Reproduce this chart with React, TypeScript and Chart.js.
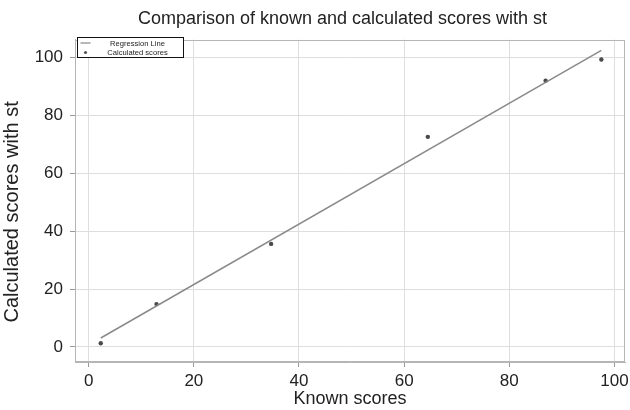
import React, { useEffect, useRef } from 'react';
import { Chart, registerables } from 'chart.js';

Chart.register(...registerables);

// ---- data ----
const knownScores = [2.3, 12.9, 34.7, 64.5, 86.9, 97.5];
const calculatedScores = [1.3, 14.8, 35.6, 72.6, 92.0, 99.3];
const regressionX = [2.3, 97.5];
const regressionY = [3.1, 102.5];
const xTicks = [0, 20, 40, 60, 80, 100];
const yTicks = [0, 20, 40, 60, 80, 100];
const chartTitle = 'Comparison of known and calculated scores with st';
const xTitle = 'Known scores';
const yTitle = 'Calculated scores with st';
const lineLabel = 'Regression Line';
const pointLabel = 'Calculated scores';

const FONT = '"Liberation Sans", Arial, sans-serif';
const TEXT = '#222';

const framePlugin = {
  id: 'frame',
  beforeDatasetsDraw(chart: any) {
    const { ctx, chartArea } = chart;
    ctx.save();
    ctx.strokeStyle = '#b5b5b5';
    ctx.lineWidth = 1;
    ctx.strokeRect(
      Math.round(chartArea.left) + 0.5,
      Math.round(chartArea.top) + 0.5,
      Math.round(chartArea.right - chartArea.left) - 1,
      Math.round(chartArea.bottom - chartArea.top) - 1
    );
    ctx.restore();
  },
};

const legendPlugin = {
  id: 'boxLegend',
  afterDraw(chart: any) {
    const { ctx, chartArea } = chart;
    const x = Math.round(chartArea.left) + 2.5;
    const y = Math.round(chartArea.top) - 2.5;
    const w = 106;
    const h = 20;
    ctx.save();
    ctx.fillStyle = '#fff';
    ctx.fillRect(x, y, w, h);
    ctx.strokeStyle = '#111';
    ctx.lineWidth = 1;
    ctx.strokeRect(x, y, w, h);
    // line sample
    ctx.strokeStyle = '#888';
    ctx.lineWidth = 1.2;
    ctx.beginPath();
    ctx.moveTo(x + 3, y + 5.5);
    ctx.lineTo(x + 13, y + 5.5);
    ctx.stroke();
    // point sample
    ctx.fillStyle = '#555';
    ctx.beginPath();
    ctx.arc(x + 8, y + 15, 1.6, 0, Math.PI * 2);
    ctx.fill();
    ctx.fillStyle = TEXT;
    ctx.font = '7.6px ' + FONT;
    ctx.textAlign = 'center';
    ctx.textBaseline = 'middle';
    const labels = chart.data.datasets.map((d: any) => d.label);
    ctx.fillText(labels[0], x + 60, y + 6.5);
    ctx.fillText(labels[1], x + 60, y + 15.5);
    ctx.restore();
  },
};

export default function App() {
  const ref = useRef<HTMLCanvasElement | null>(null);

  useEffect(() => {
    if (!ref.current) return;
    const chart = new Chart(ref.current, {
      type: 'scatter',
      data: {
        datasets: [
          {
            label: lineLabel,
            type: 'line',
            data: regressionX.map((x, i) => ({ x, y: regressionY[i] })),
            borderColor: '#8a8a8a',
            borderWidth: 1.5,
            pointRadius: 0,
            showLine: true,
            fill: false,
          } as any,
          {
            label: pointLabel,
            data: knownScores.map((x, i) => ({ x, y: calculatedScores[i] })),
            backgroundColor: '#4a4a4a',
            borderColor: '#4a4a4a',
            pointRadius: 2.2,
            pointBorderWidth: 0,
          },
        ],
      },
      options: {
        animation: false,
        responsive: false,
        maintainAspectRatio: false,
        layout: { padding: { left: 0, right: 0, top: 0, bottom: 0 } },
        plugins: {
          legend: { display: false },
          tooltip: { enabled: false },
          title: {
            display: true,
            text: chartTitle + '   ',
            fullSize: false,
            color: TEXT,
            font: { family: FONT, size: 18, weight: 'normal' },
            padding: { top: 8, bottom: 10 },
          },
        },
        scales: {
          x: {
            type: 'linear',
            min: -2.6,
            max: 102.0,
            afterBuildTicks: (s: any) => {
              s.ticks = xTicks.map((v) => ({ value: v }));
            },
            afterFit: (s: any) => {
              s.height = 48;
              s.paddingRight = 5;
              s.paddingLeft = 0;
            },
            ticks: {
              color: TEXT,
              font: { family: FONT, size: 17 },
              padding: 4,
              maxRotation: 0,
            },
            grid: { color: '#dedede', tickLength: 5, tickColor: '#999' },
            border: { color: '#b5b5b5' },
            title: {
              display: true,
              text: xTitle,
              color: TEXT,
              font: { family: FONT, size: 18 },
              padding: { top: 0, bottom: 0 },
            },
          },
          y: {
            type: 'linear',
            min: -5.2,
            max: 106.2,
            afterBuildTicks: (s: any) => {
              s.ticks = yTicks.map((v) => ({ value: v }));
            },
            afterFit: (s: any) => {
              s.width = 75;
            },
            ticks: {
              color: TEXT,
              font: { family: FONT, size: 17 },
              padding: 7,
            },
            grid: { color: '#dedede', tickLength: 5, tickColor: '#999' },
            border: { color: '#b5b5b5' },
            title: {
              display: true,
              text: yTitle + '    ',
              color: TEXT,
              font: { family: FONT, size: 20 },
              padding: { top: 0, bottom: 0 },
            },
          },
        },
      },
      plugins: [framePlugin, legendPlugin],
    });
    return () => chart.destroy();
  }, []);

  return (
    <div style={{ position: 'fixed', left: 0, top: 0, width: 630, height: 410, background: '#fff' }}>
      <canvas ref={ref} width={630} height={410} style={{ display: 'block' }} />
    </div>
  );
}
